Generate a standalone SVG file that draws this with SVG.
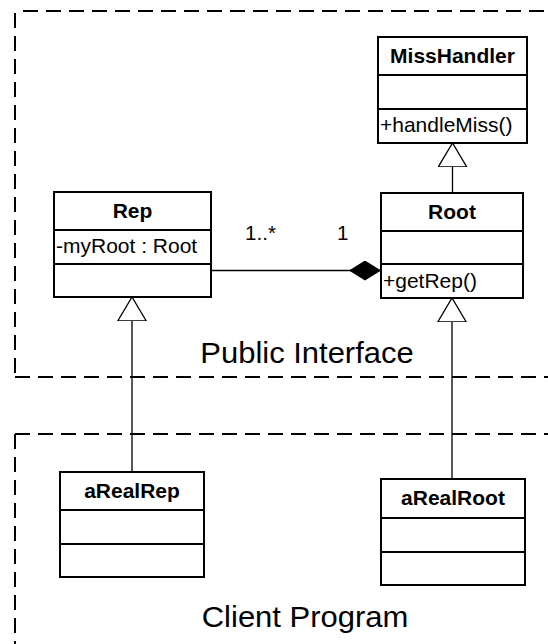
<svg xmlns="http://www.w3.org/2000/svg" width="548" height="644" viewBox="0 0 548 644">
  <style>
    .box { fill: #ffffff; stroke: #000000; stroke-width: 2; }
    .sep { stroke: #000000; stroke-width: 2; fill: none; }
    .frame { stroke: #000000; stroke-width: 2; fill: none; stroke-dasharray: 15 8; }
    .link { stroke: #000000; stroke-width: 1.3; fill: none; }
    .name { font-family: "Liberation Sans", Arial, sans-serif; font-weight: bold; font-size: 20px; text-anchor: middle; fill: #000000; }
    .member { font-family: "Liberation Sans", Arial, sans-serif; font-size: 20px; fill: #000000; }
    .mult { font-family: "Liberation Sans", Arial, sans-serif; font-size: 20px; fill: #000000; }
    .title { font-family: "Liberation Sans", Arial, sans-serif; font-size: 29.5px; text-anchor: middle; fill: #000000; }
  </style>
  <defs>
    <marker id="generalization" viewBox="0 0 24 30" refX="24" refY="15" markerWidth="24" markerHeight="30" markerUnits="userSpaceOnUse" orient="auto">
      <path d="M24,15 L0,0.7 L0,29.3 Z" fill="#ffffff" stroke="#000000" stroke-width="1.3"/>
    </marker>
    <marker id="composition" viewBox="0 0 32 20" refX="32" refY="10" markerWidth="32" markerHeight="20" markerUnits="userSpaceOnUse" orient="auto">
      <path d="M0,10 L16,0 L32,10 L16,20 Z" fill="#000000"/>
    </marker>
  </defs>

  <!-- package frames -->
  <g id="public-interface">
    <path class="frame" d="M23,11 H548"/>
    <path class="frame" d="M15,13 V377"/>
    <path class="frame" d="M15,377 H548"/>
    <text class="title" transform="translate(307,363) scale(1.05,1)">Public Interface</text>
  </g>
  <g id="client-program">
    <path class="frame" d="M15,434 H548"/>
    <path class="frame" d="M15,434 V644"/>
    <text class="title" transform="translate(305,627) scale(1.05,1)">Client Program</text>
  </g>

  <!-- connectors -->
  <g id="connectors">
    <path class="link" d="M452.5,193 V143" marker-end="url(#generalization)"/>
    <path class="link" d="M211,270.5 H381" marker-end="url(#composition)"/>
    <path class="link" d="M132,472 V297" marker-end="url(#generalization)"/>
    <path class="link" d="M452,479 V298" marker-end="url(#generalization)"/>
    <text class="mult" transform="translate(245,240) scale(1.03,1)">1..*</text>
    <text class="mult" transform="translate(337,240) scale(1.03,1)">1</text>
  </g>

  <!-- classes -->
  <g id="MissHandler">
    <rect class="box" x="378" y="37" width="149" height="106"/>
    <path class="sep" d="M378,75 H527 M378,109 H527"/>
    <text class="name" transform="translate(452.5,63) scale(1.05,1)">MissHandler</text>
    <text class="member" transform="translate(380,132) scale(1.05,1)">+handleMiss()</text>
  </g>

  <g id="Rep">
    <rect class="box" x="54" y="192" width="157" height="105"/>
    <path class="sep" d="M54,230 H211 M54,264 H211"/>
    <text class="name" transform="translate(132.5,218) scale(1.05,1)">Rep</text>
    <text class="member" transform="translate(56,253) scale(1.05,1)">-myRoot : Root</text>
  </g>

  <g id="Root">
    <rect class="box" x="381" y="193" width="142" height="105"/>
    <path class="sep" d="M381,231 H523 M381,264 H523"/>
    <text class="name" transform="translate(452,219) scale(1.05,1)">Root</text>
    <text class="member" transform="translate(383,288) scale(1.05,1)">+getRep()</text>
  </g>

  <g id="aRealRep">
    <rect class="box" x="60" y="472" width="144" height="105"/>
    <path class="sep" d="M60,510 H204 M60,544 H204"/>
    <text class="name" transform="translate(132,498) scale(1.05,1)">aRealRep</text>
  </g>

  <g id="aRealRoot">
    <rect class="box" x="381" y="479" width="144" height="106"/>
    <path class="sep" d="M381,518 H525 M381,552 H525"/>
    <text class="name" transform="translate(453,505) scale(1.05,1)">aRealRoot</text>
  </g>
</svg>
